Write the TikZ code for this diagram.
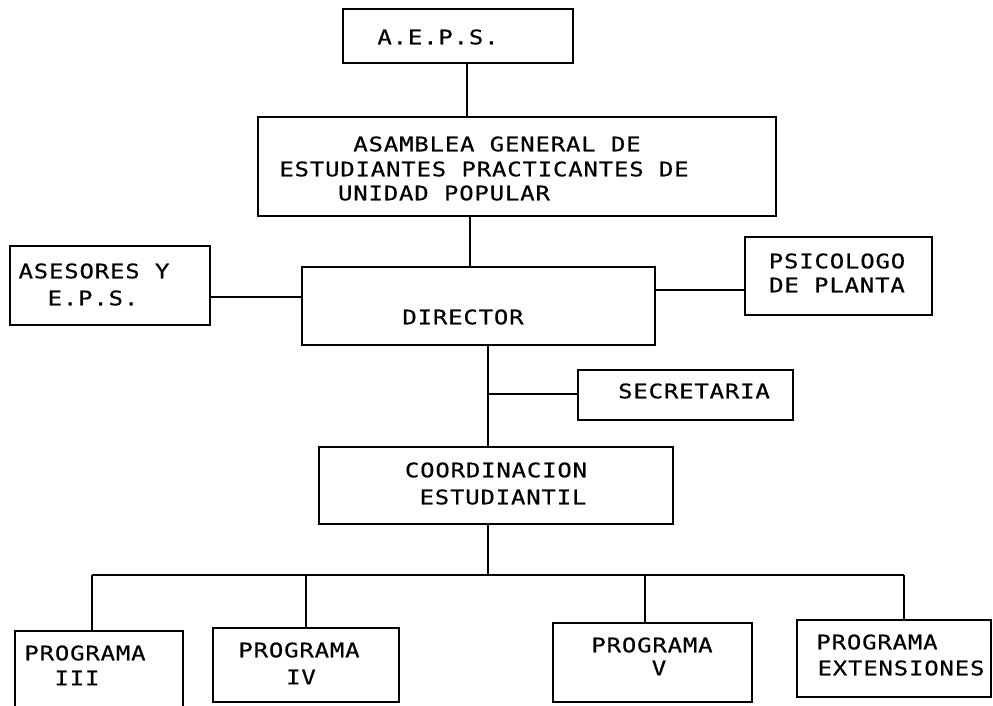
\documentclass[tikz,border=0pt]{standalone}
\usepackage{fontspec}
\newfontfamily\plotfont[FakeStretch=1.2,LetterSpace=4,FakeBold=0.5]{DejaVu Sans Mono}
\begin{document}
\begin{tikzpicture}[x=1pt,y=-1pt,line width=2pt,
  box/.style={draw,rectangle,inner sep=0pt},
  txt/.style={inner sep=0pt,font=\plotfont\fontsize{20}{23}\selectfont}]
\useasboundingbox (0,0) rectangle (993,705);
% boxes
\node[box,minimum width=230pt,minimum height=54pt] (aeps) at (458,36) {};
\node[box,minimum width=518pt,minimum height=99pt] (asamblea) at (517,166.5) {};
\node[box,minimum width=200pt,minimum height=79pt] (asesores) at (110,285.5) {};
\node[box,minimum width=353pt,minimum height=78pt] (director) at (478.5,306) {};
\node[box,minimum width=187pt,minimum height=78pt] (psicologo) at (838.5,276) {};
\node[box,minimum width=215pt,minimum height=50pt] (secretaria) at (685.5,395) {};
\node[box,minimum width=354pt,minimum height=77pt] (coord) at (496,485.5) {};
\node[box,minimum width=168pt,minimum height=81pt] (prog3) at (99,671.5) {};
\node[box,minimum width=186pt,minimum height=74pt] (prog4) at (306,665) {};
\node[box,minimum width=199pt,minimum height=79pt] (prog5) at (652.5,662.5) {};
\node[box,minimum width=194pt,minimum height=77pt] (progext) at (894,658.5) {};
% texts
\node[txt] (t-aeps) at (438,37) {A.E.P.S.};
\node[txt] (t-as1) at (497,144) {ASAMBLEA GENERAL DE};
\node[txt] (t-as2) at (484,169) {ESTUDIANTES PRACTICANTES DE};
\node[txt] (t-as3) at (444,193) {UNIDAD POPULAR};
\node[txt] (t-ase1) at (94,271) {ASESORES Y};
\node[txt] (t-ase2) at (93,298) {E.P.S.};
\node[txt] (t-psi1) at (837,261) {PSICOLOGO};
\node[txt] (t-psi2) at (837,285) {DE PLANTA};
\node[txt] (t-dir) at (463,317) {DIRECTOR};
\node[txt] (t-sec) at (694,391) {SECRETARIA};
\node[txt] (t-co1) at (496,470) {COORDINACION};
\node[txt] (t-co2) at (503,497) {ESTUDIANTIL};
\node[txt] (t-p3a) at (85,653) {PROGRAMA};
\node[txt] (t-p3b) at (77,678) {III};
\node[txt] (t-p4a) at (299,650) {PROGRAMA};
\node[txt] (t-p4b) at (301,677) {IV};
\node[txt] (t-p5a) at (652,645) {PROGRAMA};
\node[txt] (t-p5b) at (659,668) {V};
\node[txt] (t-pea) at (877,642) {PROGRAMA};
\node[txt] (t-peb) at (901,668) {EXTENSIONES};
% connector positions
\coordinate (c1) at (467,0);
\coordinate (c2) at (470,0);
\coordinate (c3) at (0,297);
\coordinate (c4) at (0,290);
\coordinate (c5) at (488,0);
\coordinate (c6) at (488,394);
\coordinate (bus) at (488,575);
\coordinate (b3) at (92,575);
\coordinate (b4) at (306,575);
\coordinate (b5) at (645,575);
\coordinate (be) at (904,575);
% connectors
\draw (aeps.south -| c1) -- (asamblea.north -| c1);
\draw (asamblea.south -| c2) -- (director.north -| c2);
\draw (asesores.east |- c3) -- (director.west |- c3);
\draw (director.east |- c4) -- (psicologo.west |- c4);
\draw (director.south -| c5) -- (coord.north -| c5);
\draw (c6) -- (secretaria.west |- c6);
\draw (coord.south -| bus) -- (bus);
\draw (b3) -- (be);
\draw (b3) -- (prog3.north -| b3);
\draw (b4) -- (prog4.north -| b4);
\draw (b5) -- (prog5.north -| b5);
\draw (be) -- (progext.north -| be);
\end{tikzpicture}
\end{document}
